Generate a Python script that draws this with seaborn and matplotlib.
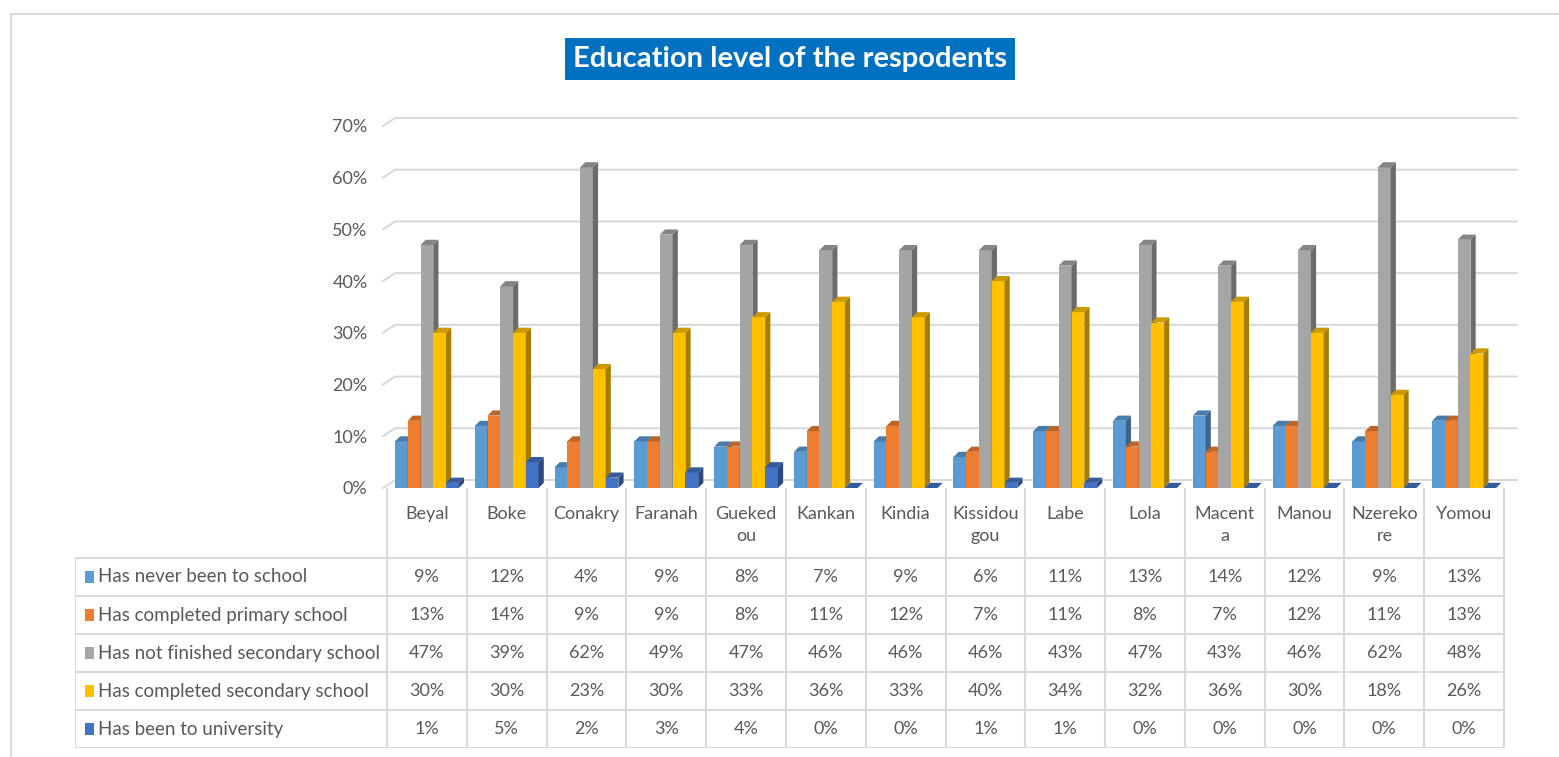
import numpy as np
import pandas as pd
import seaborn as sns
import matplotlib.pyplot as plt
from matplotlib.patches import Polygon, Rectangle
from matplotlib.lines import Line2D
from matplotlib.colors import to_rgb

sns.set_theme(style='white')
plt.rcParams['font.family'] = ['Lato', 'DejaVu Sans']

regions = ['Beyal', 'Boke', 'Conakry', 'Faranah', 'Guekedou', 'Kankan', 'Kindia',
           'Kissidougou', 'Labe', 'Lola', 'Macenta', 'Manou', 'Nzerekore', 'Yomou']
header_labels = ['Beyal', 'Boke', 'Conakry', 'Faranah', 'Gueked\nou', 'Kankan', 'Kindia',
                 'Kissidou\ngou', 'Labe', 'Lola', 'Macent\na', 'Manou', 'Nzereko\nre', 'Yomou']
levels = ['Has never been to school', 'Has completed primary school',
          'Has not finished secondary school', 'Has completed secondary school',
          'Has been to university']
never = [9, 12, 4, 9, 8, 7, 9, 6, 11, 13, 14, 12, 9, 13]
primary = [13, 14, 9, 9, 8, 11, 12, 7, 11, 8, 7, 12, 11, 13]
not_finished = [47, 39, 62, 49, 47, 46, 46, 46, 43, 47, 43, 46, 62, 48]
secondary = [30, 30, 23, 30, 33, 36, 33, 40, 34, 32, 36, 30, 18, 26]
university = [1, 5, 2, 3, 4, 0, 0, 1, 1, 0, 0, 0, 0, 0]
colors = ['#5B9BD5', '#ED7D31', '#A5A5A5', '#FFC000', '#4472C4']
yticks = [0, 10, 20, 30, 40, 50, 60, 70]

wide = pd.DataFrame({'region': regions, levels[0]: never, levels[1]: primary,
                     levels[2]: not_finished, levels[3]: secondary, levels[4]: university})
df = wide.melt(id_vars='region', var_name='level', value_name='value')

W, H = 1559, 757
TXT = '#595959'
GRID = '#D9D9D9'


def box(l, t, r, b):
    return [l / W, 1 - b / H, (r - l) / W, (b - t) / H]


def P(x, y):
    return x / W, 1 - y / H


fig = plt.figure(figsize=(W / 100, H / 100), dpi=100)

# outer frame (top and left only visible)
fig.add_artist(Line2D([11 / W, 1], [1 - 14 / H] * 2, color=GRID, lw=1.5))
fig.add_artist(Line2D([11 / W] * 2, [0, 1 - 14 / H], color=GRID, lw=1.5))

# bars
col_w = (1504 - 387) / 14
ax = fig.add_axes(box(387, 126, 1517, 488))
sns.barplot(data=df, x='region', y='value', hue='level', hue_order=levels,
            palette=colors, width=0.8, saturation=1, edgecolor='none',
            legend=False, ax=ax)
ax.set_xlim(-0.5, -0.5 + (1517 - 387) / col_w)
ax.set_ylim(0, 70)
ax.set_yticks(yticks)
ax.set_yticklabels([f'{v}%' for v in yticks])
ax.set_xticks([])
ax.set_xlabel('')
ax.set_ylabel('')
ax.tick_params(axis='y', length=0, pad=14, labelsize=13, labelcolor=TXT)
for s in ax.spines.values():
    s.set_visible(False)

# back-wall gridlines with a small floor stub
px_per = (488 - 126) / 70
for v in yticks:
    yf = 488 - v * px_per
    xs, ys = zip(P(383, yf), P(395, yf - 8), P(1517, yf - 8))
    ax.plot(xs, ys, color=GRID, lw=1.5, transform=fig.transFigure,
            clip_on=False, zorder=0.5)

# pseudo 3D faces on every bar
dx, dy = 0.065, 1.0
bars = sorted(ax.patches, key=lambda p: p.get_x())
for k, p in enumerate(bars):
    x, w, h = p.get_x(), p.get_width(), p.get_height()
    c = np.array(to_rgb(p.get_facecolor()))
    p.set_zorder(3 + 2 * k)
    ax.add_patch(Polygon([(x + w, 0), (x + w + dx, dy), (x + w + dx, h + dy), (x + w, h)],
                         closed=True, fc=c * 0.65, ec='none', zorder=4 + 2 * k, clip_on=False))
    ax.add_patch(Polygon([(x, h), (x + dx, h + dy), (x + w + dx, h + dy), (x + w, h)],
                         closed=True, fc=c * 0.8, ec='none', zorder=4 + 2 * k, clip_on=False))

# data table
lab_w = (387 - 75) / col_w
tx = fig.add_axes(box(75, 488, 1517, 748))
tx.set_xlim(-0.5 - lab_w, -0.5 + (1517 - 75) / col_w - lab_w)
tx.set_ylim(260, 0)
tx.axis('off')
head_h, row_h = 70, 38
left = -0.5 - lab_w
for i in range(15):
    tx.plot([i - 0.5, i - 0.5], [0, head_h + 5 * row_h], color=GRID, lw=1.5)
tx.plot([left, left], [head_h, head_h + 5 * row_h], color=GRID, lw=1.5)
for k in range(6):
    y = head_h + k * row_h
    tx.plot([left, 13.5], [y, y], color=GRID, lw=1.5)
for i, name in enumerate(header_labels):
    tx.text(i, 18, name, ha='center', va='top', fontsize=13, color=TXT, linespacing=1.45)
series = [never, primary, not_finished, secondary, university]
for k, (lvl, vals, col) in enumerate(zip(levels, series, colors)):
    yc = head_h + (k + 0.5) * row_h
    tx.add_patch(Rectangle((left + 0.12, yc - 6), 0.12, 12, fc=col, ec='none'))
    tx.text(left + 0.29, yc, lvl, ha='left', va='center', fontsize=13.5, color=TXT)
    for i, v in enumerate(vals):
        tx.text(i, yc, f'{v}%', ha='center', va='center', fontsize=13, color=TXT)

# title
fig.text(790 / W, 1 - 59 / H, 'Education level of the respodents', ha='center', va='center',
         color='white', fontsize=21, fontweight='bold',
         bbox=dict(boxstyle='square,pad=0.28', fc='#0070C0', ec='none'))

fig.savefig('out.png', dpi=100)
